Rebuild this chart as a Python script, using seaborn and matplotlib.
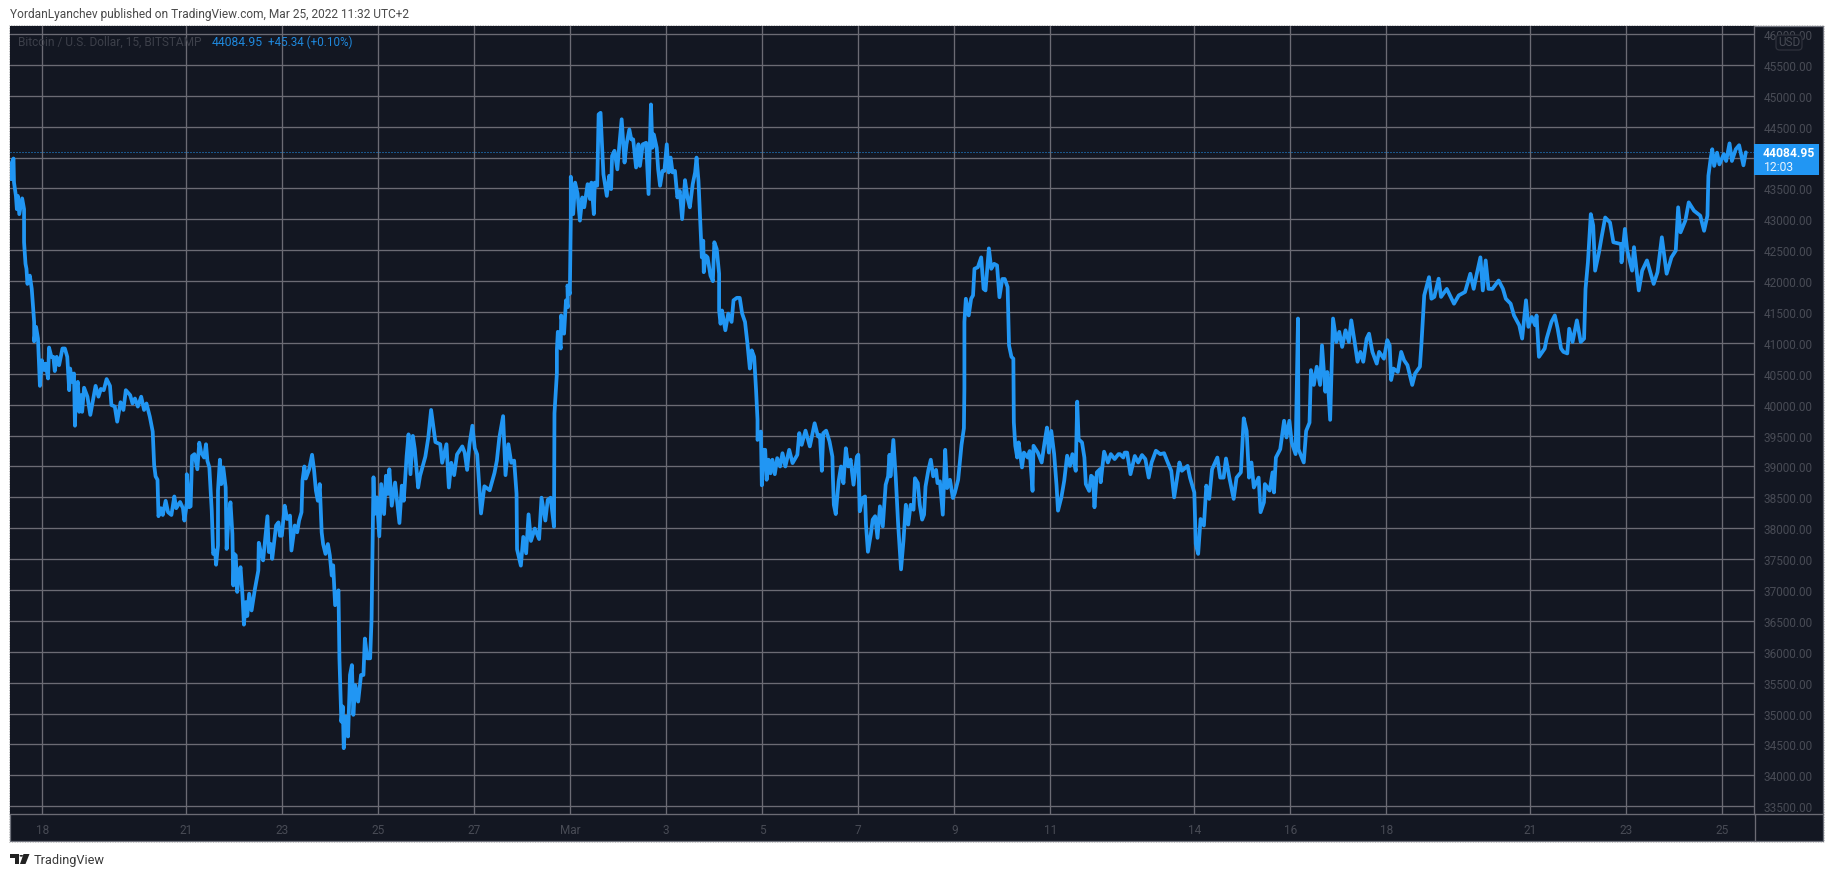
import matplotlib
matplotlib.use("Agg")
import matplotlib.pyplot as plt
from matplotlib.patches import Rectangle, FancyBboxPatch, Polygon, Circle
import pandas as pd
import seaborn as sns

# (days since Feb 18, BTC price)
feb_slide = [(-0.65, 43650), (-0.65, 43890), (-0.60, 43985), (-0.59, 43600), (-0.55, 43380), (-0.53, 43165),
             (-0.51, 43380), (-0.48, 43085), (-0.42, 43340), (-0.38, 43165), (-0.38, 42630), (-0.35, 42280),
             (-0.33, 42200), (-0.31, 41955), (-0.26, 42090), (-0.22, 41875), (-0.17, 41340), (-0.17, 41025),
             (-0.13, 41260), (-0.09, 41070), (-0.05, 40305), (-0.01, 40720), (0.04, 40560), (0.07, 40665),
             (0.12, 40425), (0.14, 40925), (0.19, 40775), (0.23, 40775), (0.26, 40545), (0.30, 40775),
             (0.35, 40640), (0.42, 40910), (0.47, 40910), (0.52, 40775), (0.56, 40235), (0.58, 40585),
             (0.62, 40370), (0.66, 40505), (0.68, 39660), (0.70, 40210), (0.74, 40370), (0.77, 39885),
             (0.81, 40155), (0.83, 39885), (0.87, 40275), (0.94, 40130), (1.00, 39835), (1.05, 40050),
             (1.11, 40305), (1.17, 40130), (1.22, 40255), (1.28, 40235), (1.34, 40415), (1.41, 40305),
             (1.44, 39995), (1.51, 39970), (1.56, 39725), (1.63, 40040), (1.69, 39915), (1.74, 40235),
             (1.83, 40155), (1.88, 40020), (1.93, 40100), (1.99, 39970), (2.06, 40130), (2.12, 39915),
             (2.17, 40020), (2.24, 39805), (2.30, 39565), (2.33, 39025), (2.36, 38840), (2.40, 38785),
             (2.42, 38195), (2.47, 38325), (2.51, 38215), (2.57, 38445), (2.62, 38260), (2.69, 38215),
             (2.75, 38515), (2.79, 38325), (2.87, 38425), (2.93, 38325), (2.96, 38125), (3.01, 38395)]

feb_low = [(3.01, 38355), (3.01, 38875), (3.06, 38340), (3.09, 38355), (3.12, 39170), (3.17, 39200),
           (3.23, 38955), (3.27, 39385), (3.31, 39225), (3.37, 39145), (3.41, 39360), (3.44, 39090),
           (3.48, 38985), (3.53, 38285), (3.56, 37585), (3.60, 37640), (3.62, 37410), (3.66, 37720),
           (3.66, 38610), (3.70, 39110), (3.73, 38715), (3.77, 38985), (3.82, 38660), (3.84, 37665),
           (3.88, 38175), (3.92, 38420), (3.96, 37910), (3.98, 37075), (4.00, 37585), (4.03, 37560),
           (4.06, 36970), (4.10, 37290), (4.13, 37370), (4.17, 36915), (4.20, 36440), (4.24, 36805),
           (4.27, 36580), (4.31, 36940), (4.36, 36670), (4.43, 37020), (4.50, 37315), (4.51, 37765),
           (4.56, 37585), (4.60, 37480), (4.65, 37880), (4.69, 38195), (4.72, 37615), (4.76, 37745),
           (4.79, 37505), (4.87, 38045), (4.92, 38095), (4.95, 37880), (4.99, 37880), (5.05, 38365),
           (5.10, 38150), (5.16, 38205), (5.19, 37640), (5.26, 38045), (5.31, 37935), (5.35, 38125),
           (5.40, 38260), (5.42, 38770), (5.46, 39000), (5.49, 38805), (5.56, 38955), (5.62, 39190),
           (5.66, 38955), (5.70, 38610), (5.74, 38445), (5.78, 38715), (5.82, 37935), (5.85, 37745),
           (5.90, 37585), (5.95, 37745), (5.99, 37560), (6.03, 37235), (6.06, 37400), (6.10, 36755),
           (6.17, 36995), (6.19, 35895), (6.23, 34870), (6.26, 35115), (6.28, 34440), (6.32, 34950),
           (6.37, 34630), (6.41, 35625), (6.45, 35785), (6.48, 34980), (6.52, 35460), (6.58, 35195),
           (6.64, 35625), (6.69, 35625), (6.72, 36215), (6.77, 35895), (6.83, 35895), (6.86, 36540),
           (6.90, 38825), (6.92, 38230), (6.97, 38500), (7.02, 37870), (7.06, 38715), (7.12, 38230),
           (7.16, 38850), (7.20, 38555), (7.23, 38955), (7.28, 38365), (7.35, 38740), (7.44, 38085),
           (7.49, 38690), (7.53, 38445), (7.59, 39170), (7.63, 39520), (7.67, 38875), (7.72, 39495),
           (7.76, 39280), (7.83, 38660), (7.87, 38850)]

feb_range = [(7.98, 39160), (8.04, 39460), (8.10, 39915), (8.19, 39395), (8.29, 39360), (8.33, 39060),
             (8.42, 39360), (8.47, 38660), (8.52, 39060), (8.58, 38860), (8.64, 39195), (8.75, 39325),
             (8.80, 39225), (8.85, 38945), (8.90, 39360), (8.96, 39660), (9.01, 39295), (9.06, 39195),
             (9.14, 38240), (9.21, 38680), (9.32, 38615), (9.42, 38895), (9.47, 39095), (9.52, 39460),
             (9.60, 39815), (9.65, 38860), (9.71, 39360), (9.77, 39060), (9.83, 39095), (9.88, 38560),
             (9.89, 37660), (9.97, 37395), (10.02, 37860), (10.08, 37595), (10.13, 38225), (10.18, 37795),
             (10.26, 37995), (10.35, 37825), (10.40, 38495), (10.48, 38125), (10.53, 38460), (10.59, 38495),
             (10.66, 38025)]

mar_peak = [(10.67, 39540), (10.67, 39860), (10.72, 40505), (10.72, 40880), (10.74, 41180), (10.80, 40910),
            (10.81, 41445), (10.87, 41150), (10.91, 41690), (10.95, 41580), (10.94, 41930), (10.99, 41795),
            (11.01, 42980), (11.01, 43690), (11.06, 43085), (11.10, 43595), (11.15, 43420), (11.20, 42980),
            (11.25, 43355), (11.29, 43195), (11.36, 43570), (11.41, 43330), (11.44, 43595), (11.49, 43085),
            (11.51, 43595), (11.56, 43545), (11.59, 44700), (11.63, 44725), (11.65, 44375), (11.69, 43730),
            (11.76, 43380), (11.81, 43705), (11.85, 43490), (11.87, 44025), (11.92, 44110), (11.98, 43810),
            (12.02, 44190), (12.07, 44620), (12.13, 43920), (12.17, 44215), (12.23, 44455), (12.27, 44295),
            (12.31, 44295), (12.37, 43840), (12.42, 44215), (12.45, 43865), (12.51, 44215), (12.58, 44240),
            (12.63, 43410), (12.68, 44860), (12.71, 44160), (12.74, 44375), (12.80, 44160), (12.83, 43810),
            (12.87, 43545), (12.92, 43785), (12.96, 43785), (13.01, 44215), (13.05, 43760), (13.09, 44000),
            (13.13, 43760), (13.18, 43785), (13.23, 43355), (13.28, 43460), (13.33, 43005), (13.39, 43635),
            (13.44, 43355), (13.49, 43195), (13.55, 43570), (13.60, 43760), (13.63, 44000), (13.67, 43625),
            (13.72, 42765), (13.74, 42385), (13.77, 42655), (13.78, 42145), (13.82, 42415), (13.86, 42385),
            (13.92, 42090), (13.97, 42000), (14.00, 42630), (14.05, 42520), (14.10, 42120), (14.10, 41525),
            (14.13, 41310), (14.16, 41525), (14.23, 41205), (14.29, 41475), (14.36, 41340), (14.40, 41690),
            (14.47, 41730), (14.53, 41730), (14.58, 41475), (14.64, 41340), (14.69, 40990), (14.74, 40585),
            (14.78, 40880), (14.83, 40775), (14.87, 40235), (14.90, 39755), (14.90, 39430)]

mar_range = [(14.97, 39565), (14.99, 38695), (15.02, 39270), (15.06, 39270), (15.09, 38785), (15.13, 39110),
             (15.17, 38890), (15.21, 39110), (15.26, 38875), (15.31, 39135), (15.37, 39000), (15.42, 39215),
             (15.48, 39000), (15.56, 39270), (15.63, 39055), (15.73, 39190), (15.77, 39540), (15.82, 39350),
             (15.90, 39580), (15.99, 39325), (16.09, 39700), (16.16, 39485), (16.20, 39510), (16.24, 38930),
             (16.27, 39540), (16.33, 39580), (16.40, 39405), (16.46, 39160), (16.47, 38840), (16.49, 38380),
             (16.53, 38230), (16.59, 38760), (16.64, 39000), (16.69, 38730), (16.74, 39295), (16.79, 39000),
             (16.84, 39110), (16.90, 38705), (16.97, 39160), (17.00, 39190), (17.03, 38275), (17.09, 38490),
             (17.14, 38515), (17.16, 38060), (17.20, 37620), (17.26, 37900), (17.30, 38140), (17.35, 38195),
             (17.40, 37845), (17.45, 38355), (17.51, 38030), (17.57, 38705), (17.62, 38840), (17.65, 39190),
             (17.67, 38840), (17.73, 39430), (17.78, 38825), (17.83, 38060), (17.89, 37335), (17.94, 37790),
             (17.99, 38380), (18.04, 38060), (18.09, 38380), (18.15, 38300), (18.18, 38810), (18.24, 38730),
             (18.28, 38380), (18.33, 38140), (18.37, 38220), (18.40, 38675), (18.46, 38945), (18.51, 39110),
             (18.56, 38840), (18.62, 38945), (18.65, 38730), (18.70, 38760), (18.76, 38220), (18.81, 39270),
             (18.85, 38650), (18.91, 38785), (18.97, 38490), (19.01, 38570), (19.08, 38785), (19.15, 39350),
             (19.20, 39620)]

mar_spike = [(19.21, 40265), (19.21, 41340), (19.24, 41715), (19.30, 41445), (19.35, 41715), (19.39, 41770),
             (19.42, 42200), (19.49, 42225), (19.56, 42385), (19.61, 41875), (19.65, 41850), (19.72, 42530),
             (19.77, 42200), (19.83, 42280), (19.89, 42255), (19.94, 41740), (20.00, 42035), (20.05, 42035),
             (20.11, 41905), (20.14, 40960), (20.19, 40775), (20.23, 40745), (20.24, 39715), (20.27, 39335),
             (20.31, 39145), (20.34, 39390), (20.41, 38985), (20.45, 39225), (20.53, 39145), (20.57, 39250),
             (20.63, 38605), (20.65, 39335), (20.74, 39225), (20.82, 39065), (20.88, 39390), (20.93, 39630),
             (20.97, 39225), (21.02, 39575), (21.08, 39200), (21.13, 38690), (21.16, 38285), (21.23, 38500),
             (21.29, 38770), (21.35, 39175), (21.41, 39010), (21.46, 39200), (21.53, 38930), (21.56, 40050),
             (21.59, 39440), (21.66, 39390), (21.71, 39145), (21.74, 38715), (21.81, 38605), (21.85, 38850),
             (21.89, 38820), (21.92, 38340), (21.97, 38905), (22.04, 38960), (22.05, 38745), (22.12, 39240),
             (22.20, 39065), (22.26, 39200), (22.34, 39120), (22.42, 39200)]

mar_climb = [(22.45, 39200), (22.52, 39145), (22.55, 39225), (22.60, 39225), (22.67, 38875), (22.76, 39170),
             (22.83, 39065), (22.91, 39185), (22.98, 39120), (23.05, 38820), (23.11, 39065), (23.20, 39255),
             (23.29, 39200), (23.37, 39215), (23.46, 39040), (23.52, 38930), (23.58, 38500), (23.69, 39065),
             (23.74, 38930), (23.86, 39010), (23.91, 38820), (24.00, 38580), (24.03, 37745), (24.08, 37585),
             (24.13, 38150), (24.20, 38045), (24.25, 38690), (24.31, 38475), (24.37, 38955), (24.48, 39145),
             (24.54, 38820), (24.61, 38820), (24.66, 39130), (24.73, 38820), (24.82, 38475), (24.88, 38820),
             (24.97, 38905), (25.03, 39780), (25.09, 39575), (25.14, 38820), (25.19, 39065), (25.24, 38660),
             (25.34, 38820), (25.38, 38260), (25.45, 38420), (25.47, 38715), (25.57, 38610), (25.63, 38905),
             (25.66, 38580), (25.70, 39145), (25.79, 39280), (25.87, 39740), (25.92, 39470), (25.98, 39740),
             (26.03, 39385), (26.11, 39200), (26.16, 41395), (26.17, 39280), (26.28, 39065), (26.33, 39575),
             (26.40, 39710), (26.43, 40560), (26.49, 40320), (26.55, 40615), (26.62, 40320), (26.66, 40960),
             (26.73, 40210), (26.77, 40530), (26.83, 39755), (26.89, 41395), (26.96, 41015), (27.02, 41180),
             (27.08, 40935), (27.15, 41205), (27.22, 41015), (27.27, 41365), (27.34, 41015), (27.40, 40695),
             (27.46, 40855), (27.52, 40695), (27.59, 41070), (27.64, 41150), (27.71, 40855), (27.80, 40665),
             (27.85, 40855), (27.95, 40745), (28.02, 41045), (28.07, 40960), (28.10, 40400), (28.15, 40585),
             (28.24, 40530), (28.31, 40855), (28.37, 40720), (28.44, 40640), (28.54, 40320), (28.60, 40505),
             (28.70, 40615), (28.73, 40960), (28.79, 41770), (28.89, 42065), (28.94, 41715), (29.00, 41745),
             (29.09, 42040), (29.14, 41745), (29.26, 41875), (29.41, 41635), (29.51, 41770), (29.64, 41825),
             (29.75, 42120), (29.82, 41875), (29.87, 42065), (29.96, 42385), (30.01, 41850), (30.07, 42335),
             (30.13, 41875), (30.21, 41875), (30.34, 42010), (30.43, 41875), (30.49, 41715), (30.59, 41635),
             (30.66, 41445), (30.77, 41285), (30.83, 41070), (30.91, 41690), (30.96, 41260), (31.03, 41420),
             (31.10, 41285), (31.13, 41445), (31.18, 40775), (31.30, 40910), (31.34, 41070), (31.44, 41340),
             (31.51, 41445), (31.57, 41230), (31.64, 40910), (31.69, 40855), (31.77, 40830), (31.81, 41230),
             (31.88, 41015), (31.97, 41365), (32.05, 41015), (32.12, 41070), (32.15, 41875), (32.20, 42305),
             (32.26, 43085), (32.31, 42900), (32.35, 42170), (32.43, 42465), (32.49, 42735), (32.56, 43030),
             (32.66, 42950), (32.73, 42630), (32.89, 42600), (32.90, 42305), (32.97, 42845), (33.02, 42495),
             (33.12, 42170), (33.16, 42550), (33.26, 41850), (33.33, 42170), (33.43, 42335), (33.50, 42145),
             (33.57, 41955), (33.65, 42145), (33.74, 42710), (33.84, 42120), (33.94, 42385), (34.03, 42495),
             (34.08, 43195), (34.13, 42790), (34.23, 42980), (34.30, 43275), (34.41, 43140), (34.54, 43060),
             (34.62, 42815), (34.69, 43060), (34.71, 43705), (34.76, 44000), (34.79, 44135), (34.83, 43865),
             (34.89, 44080), (34.94, 43890), (35.03, 44055), (35.08, 43945), (35.15, 44230), (35.20, 43945),
             (35.28, 44135), (35.35, 44200), (35.44, 43875), (35.49, 44084.95)]

last_price = 44084.95
price_ticks = list(range(33500, 46500, 500))
day_ticks = [0, 3, 5, 7, 9, 11, 13, 15, 17, 19, 21, 24, 26, 28, 31, 33, 35]
day_labels = ["18", "21", "23", "25", "27", "Mar", "3", "5", "7", "9", "11", "14", "16", "18", "21", "23", "25"]

W, H = 1834, 878
BG = "#131722"
GRID = "#6b6b74"
BLUE = "#2196f3"
DIM = "#484b55"

df = pd.DataFrame(feb_slide + feb_low + feb_range + mar_peak + mar_range + mar_spike + mar_climb,
                  columns=["day", "price"])

sns.set_theme(style="dark")
plt.rcParams["font.family"] = ["Roboto", "DejaVu Sans"]

fig = plt.figure(figsize=(W / 100, H / 100), dpi=100, facecolor="white")


def fx(x):
    return x / W


def fy(y):
    return 1 - y / H


def label(x, y, s, **kw):
    kw.setdefault("va", "center")
    kw.setdefault("fontsize", 8.5)
    fig.text(fx(x), fy(y), s, **kw)


def box(x0, y0, x1, y1, **kw):
    fig.patches.append(Rectangle((fx(x0), fy(y1)), fx(x1 - x0), (y1 - y0) / H,
                                 transform=fig.transFigure, figure=fig, **kw))


# dark panel behind the plot and the two axis strips
box(9, 26, 1824, 843, facecolor="none", edgecolor="#c9c9c9", linewidth=0.7, linestyle=":", zorder=-2)
box(10, 27, 1823, 842, facecolor=BG, edgecolor="#70737d", linewidth=0.9, zorder=-1)

ax = fig.add_axes([fx(10), fy(815), fx(1754 - 10), (815 - 27) / H], facecolor=BG)
sns.lineplot(data=df, x="day", y="price", estimator=None, sort=False, errorbar=None,
             color=BLUE, linewidth=2.7, ax=ax, zorder=4)
ax.axhline(last_price, color=BLUE, linewidth=0.72, linestyle=(0, (1, 2)), zorder=3)

ax.set_xlim(-0.673, 35.66)
ax.set_ylim(33375, 46130)
ax.set_xlabel("")
ax.set_ylabel("")
ax.set_xticks(day_ticks)
ax.set_xticklabels(day_labels)
ax.yaxis.tick_right()
ax.set_yticks(price_ticks)
# the 44000 label sits under the last price tag, so it never shows
ax.set_yticklabels(["" if p == 44000 else f"{p:.2f}" for p in price_ticks])
ax.tick_params(axis="x", length=0, pad=6.5, labelsize=8.5, labelcolor=DIM)
ax.tick_params(axis="y", length=0, pad=7.2, labelsize=8.5, labelcolor=DIM)
ax.grid(True, color=GRID, linewidth=0.95, zorder=1)
ax.set_axisbelow(True)
for side, spine in ax.spines.items():
    spine.set_visible(side in ("bottom", "right"))
    spine.set_color(GRID)
    spine.set_linewidth(0.95)

# the strip lines run on past the plot area
fig.add_artist(plt.Line2D([fx(1754), fx(1823)], [fy(815), fy(815)], color=GRID, linewidth=0.95))
fig.add_artist(plt.Line2D([fx(1754.5), fx(1754.5)], [fy(815), fy(842)], color=GRID, linewidth=0.95))

# last price tag
box(1754, 145, 1819, 176, facecolor=BLUE, edgecolor="none", zorder=2)
label(1763, 153.5, f"{last_price:.2f}", color="white", fontweight="bold", fontsize=8.7)
label(1764, 167.5, "12:03", color="#e8f3fd", fontsize=8.7)

# USD badge
fig.patches.append(FancyBboxPatch((fx(1776), fy(51)), fx(26), 15 / H, boxstyle="round,pad=0,rounding_size=0.002",
                                  transform=fig.transFigure, figure=fig, facecolor=BG, edgecolor="#2f323c",
                                  linewidth=0.9, zorder=2, mutation_aspect=2))
label(1789, 43, "USD", color=DIM, ha="center", fontsize=8.5)

# header, legend and footer
label(10, 14.5, "YordanLyanchev published on TradingView.com, Mar 25, 2022 11:32 UTC+2",
      color="#4a4a4a", fontsize=8.55)
label(18, 42, "Bitcoin / U.S. Dollar, 15, BITSTAMP", color="#3d404a", fontsize=8.55)
label(212, 42, "44084.95", color="#1f88dc", fontsize=8.7)
label(268, 42, "+45.34 (+0.10%)", color="#1f88dc", fontsize=8.35)
label(34, 860.5, "TradingView", color="#3a3a3a", fontsize=9.2)

# TradingView logo
logo = [[(10, 855), (19, 855), (19, 865), (14.5, 865), (14.5, 858.5), (10, 858.5)],
        [(23.5, 855), (29.5, 855), (25.5, 865), (20, 865)]]
for pts in logo:
    fig.patches.append(Polygon([(fx(x), fy(y)) for x, y in pts], closed=True, transform=fig.transFigure,
                               figure=fig, facecolor="#222222", edgecolor="none", zorder=2))
fig.patches.append(Circle((fx(21.3), fy(856.8)), 1.8 / W, transform=fig.transFigure, figure=fig,
                          facecolor="#222222", edgecolor="none", zorder=2))

fig.savefig("out.png", dpi=100, facecolor="white")
